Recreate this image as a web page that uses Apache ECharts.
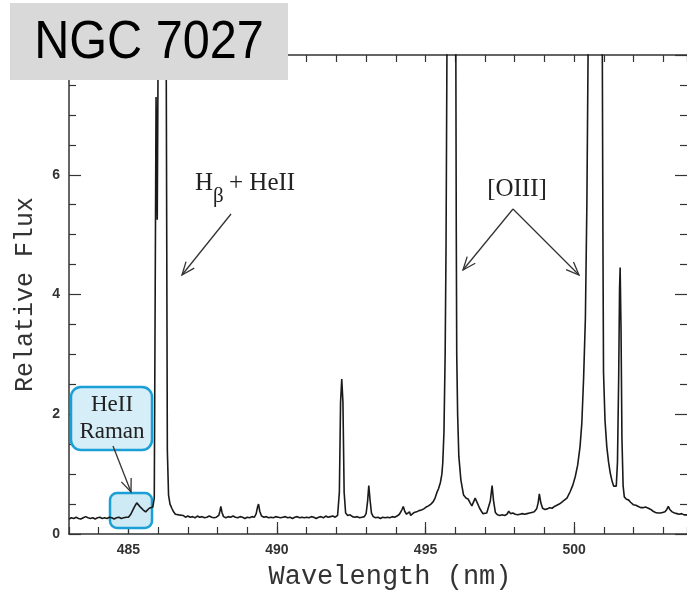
<!DOCTYPE html>
<html>
<head>
<meta charset="utf-8">
<script src="https://cdn.jsdelivr.net/npm/echarts@6/dist/echarts.min.js"></script>
<style>
html,body{margin:0;padding:0;background:#fff;}
#chart{width:687px;height:591px;}
</style>
</head>
<body>
<div id="chart"></div>
<script>
// ---- data ----
const wavelength = [
483.00,483.08,483.16,483.24,483.32,483.40,483.48,483.56,483.64,483.72,483.80,483.88,483.96,484.04,484.12,484.20,484.28,484.36,484.44,484.52,484.60,484.68,484.76,484.84,484.92,
485.00,485.08,485.16,485.22,485.28,485.34,485.42,485.50,485.58,485.64,485.70,485.76,485.82,485.87,485.93,485.97,486.02,486.10,486.20,486.26,486.31,486.35,486.40,486.46,486.52,486.58,486.64,486.70,486.76,486.84,486.92,
487.00,487.08,487.16,487.24,487.32,487.40,487.48,487.56,487.64,487.72,487.80,487.88,487.96,488.04,488.08,488.11,488.15,488.20,488.28,488.36,488.44,488.52,488.60,488.68,488.76,488.84,488.92,
489.00,489.08,489.16,489.24,489.30,489.35,489.38,489.42,489.48,489.56,489.64,489.72,489.80,489.88,489.96,490.04,490.12,490.20,490.28,490.36,490.44,490.52,490.60,490.68,490.76,490.84,490.92,
491.00,491.08,491.16,491.24,491.32,491.40,491.48,491.56,491.64,491.72,491.80,491.88,491.96,492.04,492.10,492.14,492.18,492.22,492.26,492.31,492.38,492.46,492.54,492.62,492.70,492.78,492.86,492.94,
493.00,493.05,493.09,493.13,493.18,493.24,493.32,493.40,493.48,493.56,493.64,493.72,493.80,493.88,493.96,494.04,494.12,494.20,494.25,494.30,494.36,494.41,494.46,494.50,494.56,494.62,494.70,494.78,494.86,494.94,
495.02,495.10,495.18,495.26,495.32,495.38,495.44,495.50,495.55,495.58,495.62,495.66,495.69,495.72,495.76,495.82,495.89,495.95,496.00,496.02,496.035,496.05,496.08,496.12,496.19,496.28,496.36,496.44,496.50,496.56,496.62,496.67,496.71,496.76,496.82,496.88,496.93,496.99,
497.06,497.12,497.18,497.24,497.29,497.35,497.42,497.50,497.58,497.66,497.74,497.80,497.86,497.94,498.02,498.10,498.18,498.26,498.34,498.42,498.50,498.58,498.66,498.74,498.79,498.83,498.88,498.94,
499.02,499.10,499.18,499.26,499.34,499.42,499.50,499.58,499.66,499.76,499.87,499.96,500.04,500.12,500.20,500.26,500.32,500.38,500.43,500.47,500.55,500.64,500.72,500.82,500.90,500.95,500.97,500.99,
501.04,501.10,501.16,501.22,501.28,501.33,501.38,501.42,501.46,501.50,501.53,501.55,501.58,501.61,501.65,501.69,501.76,501.83,501.90,501.99,502.08,502.16,502.24,502.32,502.40,502.45,502.50,502.58,502.66,502.74,502.82,502.90,502.98,
503.06,503.12,503.17,503.22,503.30,503.38,503.46,503.54,503.62,503.70,503.80
];
const flux = [
0.25,0.27,0.26,0.28,0.26,0.25,0.27,0.29,0.27,0.26,0.27,0.25,0.27,0.28,0.26,0.27,0.26,0.28,0.27,0.25,0.27,0.28,0.26,0.27,0.28,
0.28,0.33,0.41,0.47,0.52,0.49,0.44,0.40,0.37,0.36,0.43,0.41,0.45,0.60,7.3,5.25,10,14,14,10,1.4,0.65,0.50,0.43,0.37,0.33,0.31,0.32,0.29,0.31,0.28,
0.30,0.28,0.29,0.27,0.30,0.28,0.29,0.27,0.28,0.30,0.28,0.27,0.28,0.31,0.38,0.46,0.36,0.29,0.27,0.29,0.28,0.30,0.28,0.27,0.29,0.28,0.26,
0.28,0.27,0.29,0.28,0.34,0.46,0.50,0.38,0.30,0.28,0.29,0.27,0.28,0.27,0.29,0.28,0.27,0.28,0.29,0.27,0.28,0.26,0.28,0.29,0.27,0.28,0.27,
0.28,0.27,0.29,0.28,0.26,0.28,0.29,0.27,0.30,0.28,0.29,0.30,0.28,0.31,0.70,2.2,2.59,2.2,0.70,0.35,0.31,0.32,0.29,0.28,0.29,0.27,0.28,0.29,
0.34,0.55,0.81,0.58,0.35,0.29,0.27,0.28,0.26,0.28,0.27,0.28,0.27,0.29,0.28,0.30,0.33,0.40,0.46,0.38,0.33,0.36,0.37,0.31,0.33,0.36,0.37,0.39,0.40,0.42,
0.45,0.47,0.50,0.54,0.60,0.69,0.76,0.86,1.0,1.19,1.7,3.0,4.8,8,14,25,35,22,12,8,5,3.0,2.0,1.3,0.90,0.65,0.60,0.58,0.52,0.47,0.50,0.60,0.62,0.50,0.43,0.38,0.34,0.36,
0.35,0.38,0.55,0.81,0.55,0.36,0.32,0.31,0.32,0.31,0.33,0.38,0.34,0.35,0.33,0.32,0.33,0.34,0.33,0.34,0.35,0.36,0.37,0.42,0.52,0.67,0.52,0.43,
0.41,0.42,0.44,0.43,0.46,0.48,0.50,0.53,0.56,0.60,0.71,0.82,0.96,1.15,1.46,1.85,2.6,3.6,5.5,8,15,40,90,40,15,8,5,2.7,
1.9,1.46,1.2,1.01,0.88,0.80,0.78,0.80,1.2,2.6,4.1,4.45,3.4,1.6,0.80,0.62,0.58,0.57,0.53,0.49,0.48,0.46,0.44,0.44,0.45,0.48,0.43,0.41,0.38,0.36,0.35,0.35,0.36,
0.37,0.41,0.46,0.41,0.37,0.35,0.34,0.33,0.34,0.32,0.32
];
const xMajorTicks = [485, 490, 495, 500];
const yTickLabels = [0, 2, 4, 6];
const xRange = [483, 503.8];
const yRange = [0, 8];

// ---- chart ----
const chart = echarts.init(document.getElementById('chart'), null, {renderer: 'canvas'});
const axisColor = '#333';
const seriesData = wavelength.map((w, i) => [w, flux[i]]);

function arrow(x1, y1, x2, y2) {
  const L = 14, a = 22 * Math.PI / 180;
  const t = Math.atan2(y2 - y1, x2 - x1);
  const p1 = [x2 - L * Math.cos(t - a), y2 - L * Math.sin(t - a)];
  const p2 = [x2 - L * Math.cos(t + a), y2 - L * Math.sin(t + a)];
  const st = {stroke: '#333', lineWidth: 1.3, fill: null};
  return [
    {type: 'line', z: 50, shape: {x1, y1, x2, y2}, style: st},
    {type: 'polyline', z: 50, shape: {points: [p1, [x2, y2], p2]}, style: st}
  ];
}
function txt(x, y, text, size, align, extra) {
  return Object.assign({
    type: 'text', z: 60, x, y,
    style: {text, fill: '#222', font: size + 'px "Liberation Serif", serif',
            textAlign: align, textVerticalAlign: 'middle', align: align, verticalAlign: 'middle'}
  }, extra || {});
}

const graphics = [
  // HeII Raman boxes
  {type: 'rect', z: 1, shape: {x: 110, y: 493, width: 42, height: 35, r: 7},
   style: {fill: '#cdeaf5', stroke: '#1a9fd6', lineWidth: 2.5}},
  {type: 'rect', z: 40, shape: {x: 71, y: 387, width: 81, height: 63, r: 10},
   style: {fill: '#d6eef8', stroke: '#1a9fd6', lineWidth: 2.5}},
  txt(112, 405, 'HeII', 23, 'center'),
  txt(112, 432, 'Raman', 23, 'center'),
  ...arrow(113, 446, 131, 492),
  // Hbeta + HeII
  txt(195, 183, 'H', 25, 'left'),
  txt(213, 196, 'β', 21, 'left'),
  txt(229, 183, '+ HeII', 25, 'left'),
  ...arrow(231, 214, 182, 275),
  // [OIII]
  txt(517, 189, '[OIII]', 25, 'center'),
  ...arrow(513, 209, 463, 270),
  ...arrow(513, 209, 579, 275),
  // title box
  {type: 'rect', z: 100, shape: {x: 10, y: 3, width: 278, height: 77}, style: {fill: '#d9d9d9'}},
  {type: 'text', z: 101, x: 149, y: 43, scaleX: 0.9,
   style: {text: 'NGC 7027', fill: '#000', font: '54px "Liberation Sans", Arial, sans-serif',
           textAlign: 'center', textVerticalAlign: 'middle', align: 'center', verticalAlign: 'middle'}}
];

const tickStyle = {color: axisColor, width: 1.2};
const labelFont = {color: '#333', fontFamily: '"Liberation Sans", Arial, sans-serif', fontWeight: 'bold', fontSize: 14};
const option = {
  animation: false,
  backgroundColor: '#fff',
  grid: {left: 69, right: 0, top: 55, bottom: 57, containLabel: false, outerBoundsMode: 'none'},
  xAxis: [
    {
      type: 'value', min: xRange[0], max: xRange[1], interval: 1, position: 'bottom',
      axisLine: {show: true, onZero: false, lineStyle: {color: axisColor, width: 1.5}},
      axisTick: {show: true, inside: true, length: 7, lineStyle: tickStyle},
      axisLabel: Object.assign({show: true, customValues: xMajorTicks, margin: 9}, labelFont),
      splitLine: {show: false},
      name: 'Wavelength (nm)', nameLocation: 'middle', nameGap: 29,
      nameTextStyle: {fontFamily: '"Liberation Mono", monospace', fontSize: 27, color: '#333',
                      padding: [0, 0, 0, 24]}
    },
    {
      type: 'value', min: xRange[0], max: xRange[1], position: 'bottom',
      axisLine: {show: false, onZero: false},
      axisTick: {show: true, inside: true, length: 12, customValues: xMajorTicks, lineStyle: tickStyle},
      axisLabel: {show: false}, splitLine: {show: false}
    },
    {
      type: 'value', min: xRange[0], max: xRange[1], interval: 1, position: 'top',
      axisLine: {show: true, onZero: false, lineStyle: {color: axisColor, width: 1.5}},
      axisTick: {show: true, inside: true, length: 7, lineStyle: tickStyle},
      axisLabel: {show: false}, splitLine: {show: false}
    }
  ],
  yAxis: [
    {
      type: 'value', min: yRange[0], max: yRange[1], interval: 2, position: 'left',
      axisLine: {show: true, onZero: false, lineStyle: {color: axisColor, width: 1.5}},
      axisTick: {show: true, inside: true, length: 12, lineStyle: tickStyle},
      minorTick: {show: true, splitNumber: 4, length: 7, lineStyle: tickStyle},
      axisLabel: Object.assign({show: true, customValues: yTickLabels, margin: 9}, labelFont),
      splitLine: {show: false}, minorSplitLine: {show: false},
      name: 'Relative Flux', nameLocation: 'middle', nameGap: 31,
      nameTextStyle: {fontFamily: '"Liberation Mono", monospace', fontSize: 25, color: '#333'}
    },
    {
      type: 'value', min: yRange[0], max: yRange[1], interval: 2, position: 'right',
      axisLine: {show: false, onZero: false},
      axisTick: {show: true, inside: true, length: 12, lineStyle: tickStyle},
      minorTick: {show: true, splitNumber: 4, length: 7, lineStyle: tickStyle},
      axisLabel: {show: false}, splitLine: {show: false}, minorSplitLine: {show: false}
    }
  ],
  series: [{
    type: 'line', xAxisIndex: 0, yAxisIndex: 0, data: seriesData,
    showSymbol: false, symbol: 'none', clip: true, silent: true, z: 5,
    lineStyle: {color: '#1a1a1a', width: 1.6}
  }],
  graphic: graphics
};
chart.setOption(option);
</script>
</body>
</html>
